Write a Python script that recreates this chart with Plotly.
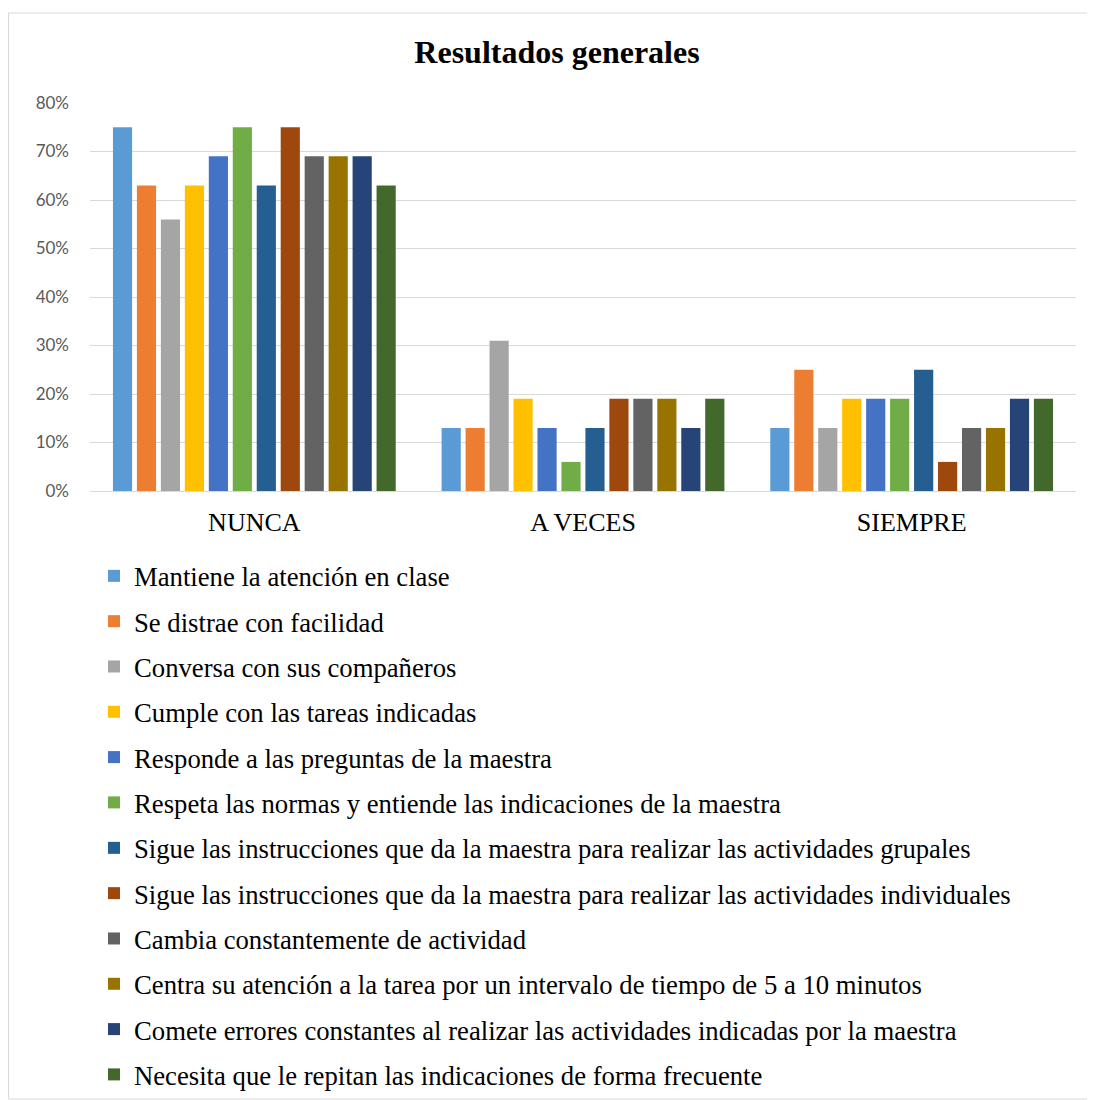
import plotly.graph_objects as go

categories = ["NUNCA", "A VECES", "SIEMPRE"]
series_names = [
    "Mantiene la atención en clase",
    "Se distrae con facilidad",
    "Conversa con sus compañeros",
    "Cumple con las tareas indicadas",
    "Responde a las preguntas de la maestra",
    "Respeta las normas y entiende las indicaciones de la maestra",
    "Sigue las instrucciones que da la maestra para realizar las actividades grupales",
    "Sigue las instrucciones que da la maestra para realizar las actividades individuales",
    "Cambia constantemente de actividad",
    "Centra su atención a la tarea por un intervalo de tiempo de 5 a 10 minutos",
    "Comete errores constantes al realizar las actividades indicadas por la maestra",
    "Necesita que le repitan las indicaciones de forma frecuente",
]
nunca = [0.75, 0.63, 0.56, 0.63, 0.69, 0.75, 0.63, 0.75, 0.69, 0.69, 0.69, 0.63]
a_veces = [0.13, 0.13, 0.31, 0.19, 0.13, 0.06, 0.13, 0.19, 0.19, 0.19, 0.13, 0.19]
siempre = [0.13, 0.25, 0.13, 0.19, 0.19, 0.19, 0.25, 0.06, 0.13, 0.13, 0.19, 0.19]
colors = ["#5B9BD5", "#ED7D31", "#A5A5A5", "#FFC000", "#4472C4", "#70AD47",
          "#255E91", "#9E480E", "#636363", "#997300", "#264478", "#43682B"]
y_ticks = [0, 0.1, 0.2, 0.3, 0.4, 0.5, 0.6, 0.7, 0.8]
y_tick_labels = ["0%", "10%", "20%", "30%", "40%", "50%", "60%", "70%", "80%"]

fig = go.Figure()
for i, name in enumerate(series_names):
    fig.add_trace(go.Bar(
        x=categories,
        y=[nunca[i], a_veces[i], siempre[i]],
        name=name,
        marker=dict(color=colors[i], line=dict(width=0)),
        legendgroup=str(i),
        legend="legend" if i < 6 else "legend2",
    ))

# page has an 8px body margin, so positions are reference minus 8
OFF = 8
W, H = 1095 - OFF, 1100 - OFF
ml, mt = 90 - OFF, 103 - OFF
mr = W - (1076 - OFF)
mb = H - (491 - OFF)
pw, ph = W - ml - mr, H - mt - mb

legend_style = dict(orientation="v", xref="container", x=(94 - OFF) / W, xanchor="left",
                    yref="container", yanchor="top",
                    font=dict(family="Liberation Serif", size=26.7, color="black"),
                    tracegroupgap=7.6, itemwidth=30, bgcolor="rgba(0,0,0,0)")

fig.update_layout(
    width=W, height=H,
    margin=dict(l=ml, r=mr, t=mt, b=mb, autoexpand=False),
    paper_bgcolor="white", plot_bgcolor="white",
    barmode="group", bargap=0.125, bargroupgap=0.2,
    title=dict(text="<b>Resultados generales</b>", x=(557 - OFF) / W, xanchor="center",
               y=1 - (52 - OFF) / H, yanchor="middle",
               font=dict(family="Liberation Serif", size=32, color="black")),
    font=dict(family="Liberation Serif", color="black"),
    xaxis=dict(showgrid=False, showline=False, ticks="", ticklabelstandoff=13,
               tickfont=dict(family="Liberation Serif", size=26, color="black")),
    yaxis=dict(range=[0, 0.8], tickvals=y_ticks, ticktext=y_tick_labels,
               showgrid=True, gridcolor="#D9D9D9", gridwidth=1,
               zeroline=True, zerolinecolor="#D9D9D9", zerolinewidth=1,
               showline=False, ticks="", ticklabelstandoff=20,
               tickfont=dict(family="Lato", size=17, color="#595959")),
    legend=dict(legend_style, y=1 - (552 - OFF) / H),
    legend2=dict(legend_style, y=1 - (824 - OFF) / H),
    showlegend=True,
)

# outer chart border
fig.add_shape(type="rect", xref="paper", yref="paper",
              x0=(8.5 - 90) / pw, x1=(1094 - 90) / pw,
              y0=-(1099 - 491) / ph, y1=1 + (103 - 13) / ph,
              line=dict(color="#D9D9D9", width=1), layer="below")

fig.write_html("out.html")
